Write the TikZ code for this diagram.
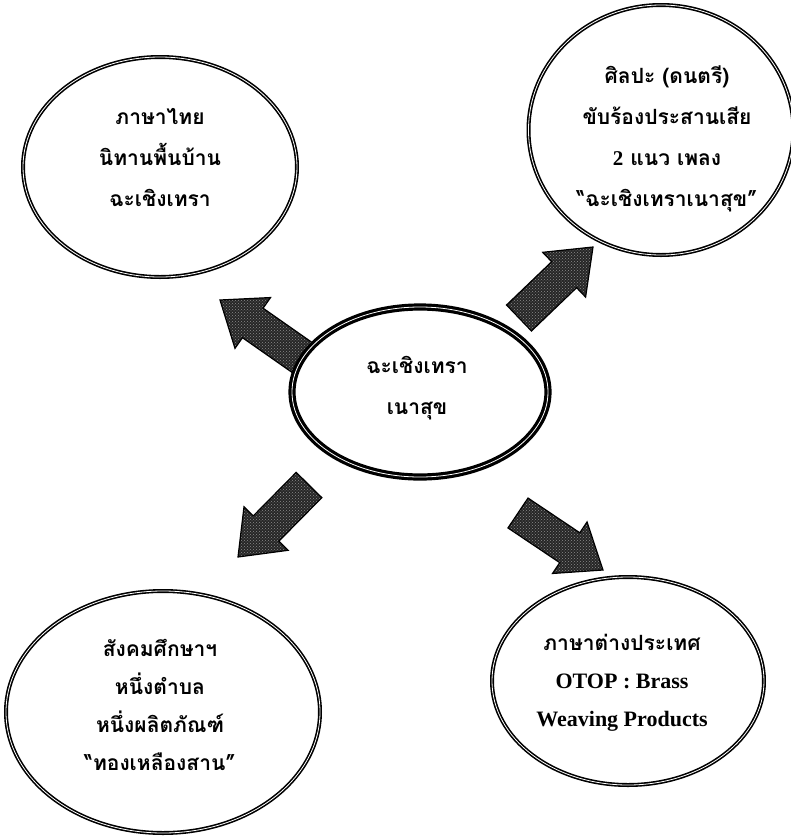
\documentclass[tikz,border=0pt]{standalone}
\usepackage{fontspec}
\newfontfamily\thaifont[Script=Thai]{Loma}
\newfontfamily\latinfont{Liberation Serif}
\usetikzlibrary{shapes.geometric,calc,patterns}
\tikzset{
  ell/.style={ellipse, draw=black, fill=white, line width=1.6pt, double=white, double distance=0.8pt, inner sep=0pt},
  thick ell/.style={ell, line width=3.2pt},
  arrowfill/.style={draw=black, line width=1.2pt, preaction={fill=black!85}, pattern=crosshatch dots, pattern color=black!45},
  thaitxt/.style={font=\thaifont\bfseries\fontsize{21}{41}\selectfont, align=center, inner sep=0pt},
  thaitxtb/.style={font=\thaifont\bfseries\fontsize{21}{38}\selectfont, align=center, inner sep=0pt},
}
\newcommand\blockarrow[2]{%
  \coordinate (#2b) at ($(#2)!40pt!(#1)$);
  \path[arrowfill] ($(#1)!18pt!90:(#2)$) -- ($(#2b)!18pt!90:(#2)$) -- ($(#2b)!31pt!90:(#2)$) -- (#2)
    -- ($(#2b)!31pt!-90:(#2)$) -- ($(#2b)!18pt!-90:(#2)$) -- ($(#1)!18pt!-90:(#2)$) -- cycle;
}
\begin{document}
\begin{tikzpicture}[x=1pt,y=-1pt]
\useasboundingbox (0,0) rectangle (791,839);
% arrow end points
\coordinate (ulT) at (310,363);
\coordinate (ulP) at (220,300);
\coordinate (urT) at (519,318);
\coordinate (urP) at (593,247);
\coordinate (llT) at (309,485);
\coordinate (llP) at (238,557);
\coordinate (lrT) at (518,513);
\coordinate (lrP) at (603,570);
\blockarrow{ulT}{ulP}
\blockarrow{urT}{urP}
\blockarrow{llT}{llP}
\blockarrow{lrT}{lrP}
% ellipses
\node[ell, minimum width=274pt, minimum height=220pt] (tl) at (160,167) {};
\node[ell, minimum width=265pt, minimum height=250pt] (tr) at (661,130) {};
\node[thick ell, minimum width=256pt, minimum height=170pt] (c) at (420,392) {};
\node[ell, minimum width=314pt, minimum height=242pt] (bl) at (163,712) {};
\node[ell, minimum width=272pt, minimum height=208pt] (br) at (628,681) {};
% texts
\node[thaitxt] (tlt) at (160,158) {ภาษาไทย\\นิทานพื้นบ้าน\\ฉะเชิงเทรา};
\node[thaitxt] (trt) at (667,139) {ศิลปะ (ดนตรี)\\ขับร้องประสานเสีย\\{\latinfont 2} แนว เพลง\\“ฉะเชิงเทราเนาสุข”};
\node[thaitxt] (ct) at (417,388) {ฉะเชิงเทรา\\เนาสุข};
\node[thaitxtb] (blt) at (160,705) {สังคมศึกษาฯ\\หนึ่งตำบล\\หนึ่งผลิตภัณฑ์\\“ทองเหลืองสาน”};
\node[thaitxtb] (brt) at (622,683) {ภาษาต่างประเทศ\\{\latinfont\fontsize{22}{38}\selectfont OTOP : Brass}\\{\latinfont\fontsize{22}{38}\selectfont Weaving Products}};
\end{tikzpicture}
\end{document}
